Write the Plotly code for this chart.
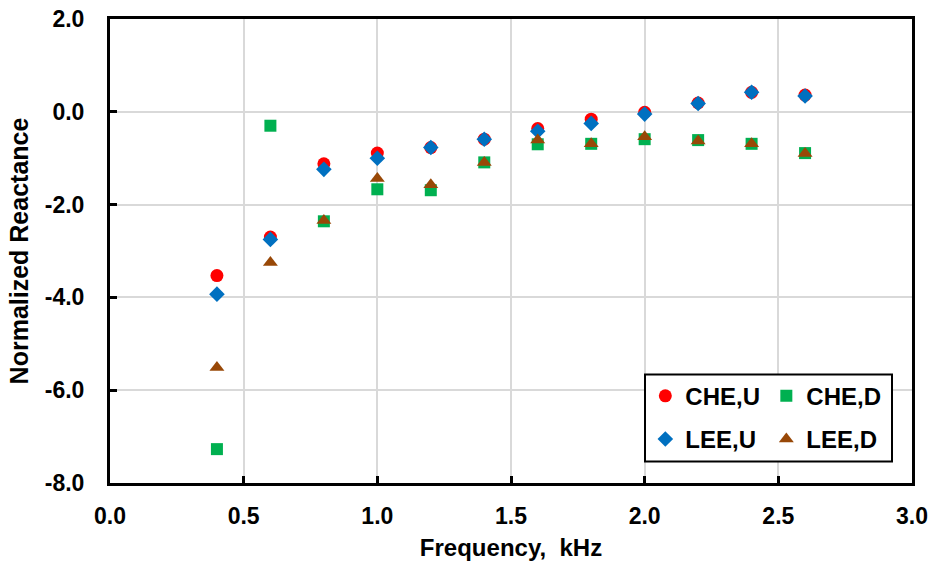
import plotly.graph_objects as go

freq = [0.4, 0.6, 0.8, 1.0, 1.2, 1.4, 1.6, 1.8, 2.0, 2.2, 2.4, 2.6]
che_u = [-3.53, -2.70, -1.12, -0.89, -0.77, -0.59, -0.36, -0.16, -0.01, 0.19, 0.42, 0.36]
che_d = [-7.27, -0.30, -2.36, -1.67, -1.69, -1.09, -0.70, -0.69, -0.59, -0.61, -0.69, -0.89]
lee_u = [-3.93, -2.75, -1.24, -1.00, -0.77, -0.59, -0.42, -0.25, -0.05, 0.18, 0.42, 0.34]
lee_d = [-5.51, -3.25, -2.34, -1.44, -1.57, -1.09, -0.61, -0.69, -0.54, -0.63, -0.69, -0.90]

x_ticks = [0.0, 0.5, 1.0, 1.5, 2.0, 2.5, 3.0]
x_labels = ["0.0", "0.5", "1.0", "1.5", "2.0", "2.5", "3.0"]
y_ticks = [2, 0, -2, -4, -6, -8]
y_labels = ["2.0", "0.0", "-2.0", "-4.0", "-6.0", "-8.0"]

series = [
    ("CHE,U", che_u, "circle", "#FF0000", 13, "legend"),
    ("CHE,D", che_d, "square", "#00B050", 12, "legend"),
    ("LEE,U", lee_u, "diamond", "#0070C0", 12, "legend2"),
    ("LEE,D", lee_d, "triangle-up", "#984807", 13, "legend2"),
]

fig = go.Figure()
for name, vals, sym, col, sz, lg in series:
    fig.add_trace(go.Scatter(
        x=freq, y=vals, mode="markers", name=name, legend=lg,
        marker=dict(symbol=sym, color=col, size=sz, line=dict(width=0)),
    ))

ff = "Arial, Liberation Sans, sans-serif"
leg_common = dict(
    orientation="h", xanchor="left", yanchor="middle",
    borderwidth=0, bgcolor="rgba(0,0,0,0)",
    font=dict(size=24, family=ff, weight="bold", color="black"),
    entrywidth=76, entrywidthmode="pixels", traceorder="normal",
)
fig.update_layout(
    width=933, height=568,
    margin=dict(l=110, r=21, t=19, b=85),
    paper_bgcolor="white", plot_bgcolor="white",
    font=dict(family=ff, color="black", size=22),
    showlegend=True,
    legend=dict(x=0.6675, y=0.187, **leg_common),
    legend2=dict(x=0.6675, y=0.094, **leg_common),
    shapes=[dict(type="rect", xref="paper", yref="paper",
                 x0=(645 - 110) / 802, x1=(892 - 110) / 802,
                 y0=1 - (462 - 19) / 464.5, y1=1 - (375 - 19) / 464.5,
                 line=dict(color="black", width=2), fillcolor="white", layer="above")],
    xaxis=dict(
        range=[0, 3], tickvals=x_ticks, ticktext=x_labels,
        showgrid=True, gridcolor="#D9D9D9", gridwidth=1.5,
        showline=True, linecolor="black", linewidth=3, mirror=True,
        ticks="inside", ticklen=7, tickwidth=3, tickcolor="black",
        ticklabelstandoff=10, automargin=False,
        tickfont=dict(size=23, family=ff, weight="bold"),
        title=dict(text="Frequency,  kHz", font=dict(size=24, family=ff, weight="bold"), standoff=12),
        zeroline=False,
    ),
    yaxis=dict(
        range=[-8, 2], tickvals=y_ticks, ticktext=y_labels,
        showgrid=True, gridcolor="#D9D9D9", gridwidth=1.5,
        showline=True, linecolor="black", linewidth=3, mirror=True,
        ticks="inside", ticklen=7, tickwidth=3, tickcolor="black",
        ticklabelstandoff=18, automargin=False,
        tickfont=dict(size=23, family=ff, weight="bold"),
        title=dict(text="Normalized Reactance", font=dict(size=25, family=ff, weight="bold"), standoff=10),
        zeroline=False,
    ),
)

fig.write_html("out.html")
